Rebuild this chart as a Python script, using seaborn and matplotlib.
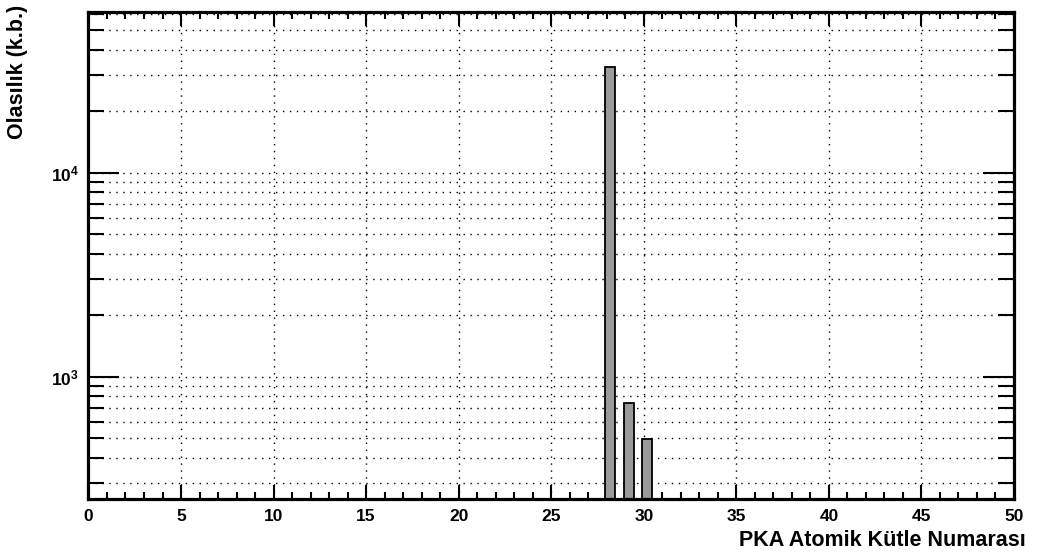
import math
import matplotlib
matplotlib.use("Agg")
import matplotlib.pyplot as plt
import matplotlib.ticker as mticker
import seaborn as sns
import pandas as pd

# PKA mass numbers and their relative probabilities (arbitrary units)
mass_numbers = [28, 29, 30]
probabilities = [32900, 741, 495]

# bars sit slightly to the right of the integer bin value
bar_offset = 0.19
bar_width = 0.54

sns.set_theme(style="ticks")
plt.rcParams["font.family"] = ["Liberation Sans", "DejaVu Sans"]
plt.rcParams["font.weight"] = "bold"
plt.rcParams["text.color"] = "black"
plt.rcParams["mathtext.fontset"] = "custom"
plt.rcParams["mathtext.rm"] = "Liberation Sans:bold"
plt.rcParams["mathtext.bf"] = "Liberation Sans:bold"
plt.rcParams["mathtext.it"] = "Liberation Sans:bold"

df = pd.DataFrame({"mass": [m + bar_offset for m in mass_numbers],
                   "prob": probabilities})

fig = plt.figure(figsize=(10.57, 5.58), dpi=100)
ax = fig.add_axes([0.0837, 0.1057, 0.9593 - 0.0837, 0.9785 - 0.1057])

sns.barplot(data=df, x="mass", y="prob", native_scale=True, width=bar_width,
            color="#9a9a9a", saturation=1, edgecolor="black", linewidth=1.3,
            ax=ax)

ax.set_yscale("log")
ax.set_xlim(0, 50)
ax.set_ylim(251, 61400)

# x axis: majors every 5, minors every 1
ax.xaxis.set_major_locator(mticker.MultipleLocator(5))
ax.xaxis.set_minor_locator(mticker.MultipleLocator(1))
ax.xaxis.set_major_formatter(mticker.FormatStrFormatter("%d"))

# y axis: decades labelled, every sub-decade marked
ax.yaxis.set_major_locator(mticker.LogLocator(base=10, subs=(1.0,)))
ax.yaxis.set_minor_locator(mticker.LogLocator(base=10, subs=range(2, 10)))
ax.yaxis.set_major_formatter(
    mticker.FuncFormatter(lambda v, p: r"$\mathbf{10^{%d}}$" % round(math.log10(v))))
ax.yaxis.set_minor_formatter(mticker.NullFormatter())

ax.tick_params(axis="both", which="both", direction="in", top=True, right=True,
               color="black", width=1.5, labelsize=12.5, labelcolor="black")
ax.tick_params(axis="x", which="major", length=10, pad=7)
ax.tick_params(axis="x", which="minor", length=5)
ax.tick_params(axis="y", which="major", length=22, pad=7)
ax.tick_params(axis="y", which="minor", length=11.5)
for lab in ax.get_xticklabels() + ax.get_yticklabels():
    lab.set_fontweight("bold")

# dotted grid: vertical at major x, horizontal at every log tick
ax.grid(True, axis="x", which="major", color="black",
        linestyle=(0, (1, 4)), linewidth=1.0)
ax.grid(True, axis="y", which="both", color="black",
        linestyle=(0, (1, 4)), linewidth=1.0)
ax.set_axisbelow(True)

for sp in ax.spines.values():
    sp.set_visible(True)
    sp.set_linewidth(2.3)
    sp.set_color("black")

ax.set_xlabel("")
ax.set_ylabel("")
fig.text(1026 / 1057, 1 - 540 / 558, "PKA Atomik Kütle Numarası", color="black",
         ha="right", va="center", fontsize=15.5, fontweight="bold")
fig.text(18 / 1057, 1 - 5 / 558, "Olasılık (k.b.)", rotation=90, color="black",
         ha="center", va="top", fontsize=15.5, fontweight="bold")

fig.savefig("out.png", dpi=100, facecolor="white")
